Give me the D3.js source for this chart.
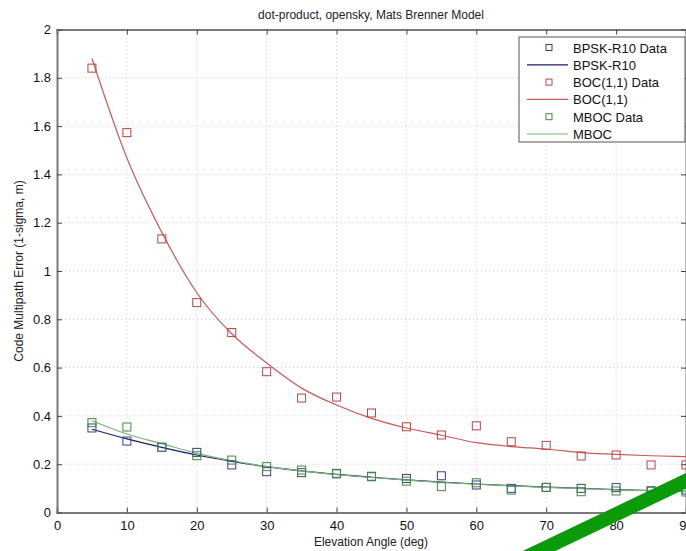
<!DOCTYPE html>
<html>
<head>
<meta charset="utf-8">
<script src="https://cdn.jsdelivr.net/npm/d3@7"></script>
<style>
  body { margin: 0; background: #fff; }
  svg { display: block; font-family: "Liberation Sans", Arial, sans-serif; }
</style>
</head>
<body>
<div id="chart"></div>
<script>
// elevation angles (deg)
const angles = [5, 10, 15, 20, 25, 30, 35, 40, 45, 50, 55, 60, 65, 70, 75, 80, 85, 90];

// measured points
const bpskData = [0.35, 0.296, 0.27, 0.249, 0.197, 0.169, 0.165, 0.162, 0.15, 0.141, 0.152, 0.114, 0.10, 0.104, 0.10, 0.103, 0.09, 0.093];
const bocData  = [1.84, 1.573, 1.133, 0.869, 0.745, 0.583, 0.474, 0.478, 0.412, 0.355, 0.321, 0.359, 0.293, 0.278, 0.234, 0.238, 0.197, 0.197];
const mbocData = [0.372, 0.354, 0.27, 0.235, 0.217, 0.19, 0.176, 0.16, 0.148, 0.13, 0.107, 0.123, 0.093, 0.104, 0.086, 0.089, 0.088, 0.085];

// model curves
const bpskModel = [0.345, 0.305, 0.27, 0.238, 0.212, 0.19, 0.172, 0.158, 0.146, 0.135, 0.126, 0.118, 0.111, 0.105, 0.1, 0.095, 0.091, 0.088];
const bocModel  = [1.88, 1.468, 1.16, 0.91, 0.74, 0.619, 0.515, 0.445, 0.39, 0.35, 0.32, 0.289, 0.273, 0.263, 0.248, 0.241, 0.235, 0.231];
const mbocModel = [0.38, 0.325, 0.285, 0.245, 0.215, 0.19, 0.172, 0.157, 0.145, 0.134, 0.125, 0.117, 0.11, 0.104, 0.099, 0.094, 0.09, 0.087];

const xTicks = [0, 10, 20, 30, 40, 50, 60, 70, 80, 90];
const yTicks = [0, 0.2, 0.4, 0.6, 0.8, 1, 1.2, 1.4, 1.6, 1.8, 2];

const series = [
  { name: "BPSK-R10", data: bpskData, model: bpskModel, mark: "#3b3b96", line: "#1c1c6a" },
  { name: "BOC(1,1)", data: bocData, model: bocModel, mark: "#b54444", line: "#c85a5a" },
  { name: "MBOC", data: mbocData, model: mbocModel, mark: "#3e8a3e", line: "#78b478" }
];

const width = 686, height = 551;
const pLeft = 57, pRight = 686, pTop = 29.5, pBottom = 512.5;

const svg = d3.select("#chart").append("svg")
  .attr("width", width)
  .attr("height", height);

const x = d3.scaleLinear().domain([0, 90]).range([pLeft, pRight]);
const y = d3.scaleLinear().domain([0, 2]).range([pBottom, pTop]);

// grid
const grid = svg.append("g").attr("stroke", "#c8c8c8").attr("stroke-dasharray", "1,3");
grid.selectAll(".gx").data(xTicks.slice(1, -1)).join("line")
  .attr("x1", d => x(d)).attr("x2", d => x(d))
  .attr("y1", pTop).attr("y2", pBottom);
grid.selectAll(".gy").data(yTicks.slice(1, -1)).join("line")
  .attr("x1", pLeft).attr("x2", pRight)
  .attr("y1", d => y(d)).attr("y2", d => y(d));

// axes
const axColor = "#7a7a7a";
const xAxis = svg.append("g").attr("transform", `translate(0,${pBottom})`)
  .call(d3.axisBottom(x).tickValues(xTicks).tickSize(-5).tickPadding(8).tickFormat(d3.format("d")));
const xTop = svg.append("g").attr("transform", `translate(0,${pTop})`)
  .call(d3.axisTop(x).tickValues(xTicks).tickSize(-5).tickFormat(""));
const yAxis = svg.append("g").attr("transform", `translate(${pLeft},0)`)
  .call(d3.axisLeft(y).tickValues(yTicks).tickSize(-5).tickPadding(6).tickFormat(d => d));
const yRight = svg.append("g").attr("transform", `translate(${pRight},0)`)
  .call(d3.axisRight(y).tickValues(yTicks).tickSize(-5).tickFormat(""));

[xAxis, xTop, yAxis, yRight].forEach(g => {
  g.select(".domain").attr("stroke", axColor).attr("stroke-width", 2);
  g.selectAll(".tick line").attr("stroke", "#444");
  g.selectAll("text").attr("fill", "#111").style("font-size", "13px");
});

// model curves
const line = d3.line().x((d, i) => x(angles[i])).y(d => y(d)).curve(d3.curveMonotoneX);
series.forEach(s => {
  svg.append("path").datum(s.model)
    .attr("fill", "none")
    .attr("stroke", s.line)
    .attr("stroke-width", 1.2)
    .attr("d", line);
});

// data markers
series.forEach(s => {
  svg.append("g").selectAll("rect").data(s.data).join("rect")
    .attr("x", (d, i) => x(angles[i]) - 4)
    .attr("y", d => y(d) - 4)
    .attr("width", 8).attr("height", 8)
    .attr("fill", "none")
    .attr("stroke", s.mark)
    .attr("stroke-width", 1);
});

// title and labels
svg.append("text").attr("x", 371).attr("y", 19).attr("text-anchor", "middle")
  .style("font-size", "12px").attr("fill", "#222")
  .text("dot-product, opensky, Mats Brenner Model");
svg.append("text").attr("x", 371).attr("y", 546).attr("text-anchor", "middle")
  .style("font-size", "12px").attr("fill", "#222")
  .text("Elevation Angle (deg)");
svg.append("text")
  .attr("transform", `translate(23,${(pTop + pBottom) / 2}) rotate(-90)`)
  .attr("text-anchor", "middle")
  .style("font-size", "12px").attr("fill", "#222")
  .text("Code Multipath Error (1-sigma, m)");

// legend
const lg = svg.append("g");
lg.append("rect").attr("x", 519).attr("y", 37).attr("width", 166).attr("height", 105)
  .attr("fill", "#fff").attr("stroke", "#555").attr("stroke-width", 1);
const rows = [];
series.forEach(s => {
  rows.push({ label: s.name + " Data", type: "mark", color: s.mark });
  rows.push({ label: s.name, type: "line", color: s.line });
});
rows.forEach((r, i) => {
  const ry = 47.5 + i * 17.3;
  if (r.type === "mark") {
    lg.append("rect").attr("x", 546).attr("y", ry - 3).attr("width", 6).attr("height", 6)
      .attr("fill", "none").attr("stroke", r.color);
  } else {
    lg.append("line").attr("x1", 527).attr("x2", 568).attr("y1", ry).attr("y2", ry)
      .attr("stroke", r.color).attr("stroke-width", 1.2);
  }
  lg.append("text").attr("x", 573).attr("y", ry + 5)
    .style("font-size", "13px").attr("fill", "#111").text(r.label);
});

// green annotation stroke across bottom-right corner
svg.append("line")
  .attr("x1", 520).attr("y1", 560).attr("x2", 692).attr("y2", 478)
  .attr("stroke", "#0a9a0a").attr("stroke-width", 14);
</script>
</body>
</html>
